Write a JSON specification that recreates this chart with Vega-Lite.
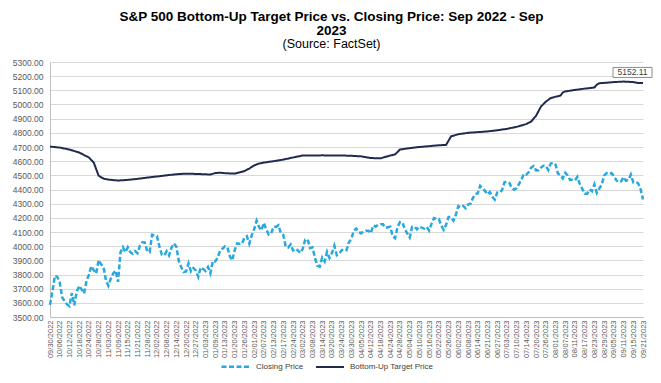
{
"$schema": "https://vega.github.io/schema/vega-lite/v6.json",
"width": 593, "height": 255,
"autosize": {"type": "none"},
"padding": {"left": 50, "top": 62, "right": 18, "bottom": 66},
"background": "white",
"config": {"view": {"stroke": null}, "font": "Liberation Sans"},
"title": {"text": ["S&P 500 Bottom-Up Target Price vs. Closing Price: Sep 2022 - Sep", "2023"], "subtitle": "(Source: FactSet)", "font": "Liberation Sans", "subtitleFont": "Liberation Sans", "fontSize": 13.5, "fontWeight": "bold", "color": "#000000", "subtitleFontSize": 12.5, "subtitleColor": "#000000", "lineHeight": 14, "subtitleLineHeight": 14, "subtitlePadding": 0, "anchor": "middle", "dx": -15, "offset": 8},
"data": {"values": [
{"date":"2022-09-30","Closing Price":3585.62,"Bottom-Up Target Price":4703},
{"date":"2022-10-03","Closing Price":3678.43},
{"date":"2022-10-04","Closing Price":3790.93},
{"date":"2022-10-05","Closing Price":3783.28},
{"date":"2022-10-06","Closing Price":3744.52,"Bottom-Up Target Price":4696},
{"date":"2022-10-07","Closing Price":3639.66},
{"date":"2022-10-10","Closing Price":3612.39},
{"date":"2022-10-11","Closing Price":3588.84},
{"date":"2022-10-12","Closing Price":3577.03,"Bottom-Up Target Price":4682},
{"date":"2022-10-13","Closing Price":3669.91},
{"date":"2022-10-14","Closing Price":3583.07},
{"date":"2022-10-17","Closing Price":3677.95},
{"date":"2022-10-18","Closing Price":3719.98,"Bottom-Up Target Price":4661},
{"date":"2022-10-19","Closing Price":3695.16},
{"date":"2022-10-20","Closing Price":3665.78},
{"date":"2022-10-21","Closing Price":3752.75},
{"date":"2022-10-24","Closing Price":3797.34,"Bottom-Up Target Price":4626},
{"date":"2022-10-25","Closing Price":3859.11},
{"date":"2022-10-26","Closing Price":3830.60,"Bottom-Up Target Price":4590},
{"date":"2022-10-27","Closing Price":3807.30},
{"date":"2022-10-28","Closing Price":3901.06,"Bottom-Up Target Price":4498},
{"date":"2022-10-31","Closing Price":3871.98},
{"date":"2022-11-01","Closing Price":3856.10,"Bottom-Up Target Price":4477},
{"date":"2022-11-02","Closing Price":3759.69},
{"date":"2022-11-03","Closing Price":3719.89,"Bottom-Up Target Price":4470},
{"date":"2022-11-04","Closing Price":3770.55},
{"date":"2022-11-07","Closing Price":3806.80},
{"date":"2022-11-08","Closing Price":3828.11},
{"date":"2022-11-09","Closing Price":3748.57,"Bottom-Up Target Price":4463},
{"date":"2022-11-10","Closing Price":3956.37},
{"date":"2022-11-11","Closing Price":3992.93},
{"date":"2022-11-14","Closing Price":3957.25},
{"date":"2022-11-15","Closing Price":3991.73,"Bottom-Up Target Price":4468},
{"date":"2022-11-16","Closing Price":3958.79},
{"date":"2022-11-17","Closing Price":3946.56},
{"date":"2022-11-18","Closing Price":3965.34},
{"date":"2022-11-21","Closing Price":3949.94,"Bottom-Up Target Price":4475},
{"date":"2022-11-22","Closing Price":4003.58},
{"date":"2022-11-23","Closing Price":4027.26},
{"date":"2022-11-25","Closing Price":4026.12},
{"date":"2022-11-28","Closing Price":3963.94,"Bottom-Up Target Price":4484},
{"date":"2022-11-29","Closing Price":3957.63},
{"date":"2022-11-30","Closing Price":4080.11},
{"date":"2022-12-01","Closing Price":4076.57},
{"date":"2022-12-02","Closing Price":4071.70,"Bottom-Up Target Price":4492},
{"date":"2022-12-05","Closing Price":3998.84},
{"date":"2022-12-06","Closing Price":3941.26},
{"date":"2022-12-07","Closing Price":3933.92},
{"date":"2022-12-08","Closing Price":3963.51,"Bottom-Up Target Price":4500},
{"date":"2022-12-09","Closing Price":3934.38},
{"date":"2022-12-12","Closing Price":3990.56},
{"date":"2022-12-13","Closing Price":4019.65},
{"date":"2022-12-14","Closing Price":3995.32,"Bottom-Up Target Price":4508},
{"date":"2022-12-15","Closing Price":3895.75},
{"date":"2022-12-16","Closing Price":3852.36},
{"date":"2022-12-19","Closing Price":3817.66},
{"date":"2022-12-20","Closing Price":3821.62,"Bottom-Up Target Price":4512},
{"date":"2022-12-21","Closing Price":3878.44},
{"date":"2022-12-22","Closing Price":3822.39},
{"date":"2022-12-23","Closing Price":3844.82},
{"date":"2022-12-27","Closing Price":3829.25,"Bottom-Up Target Price":4510},
{"date":"2022-12-28","Closing Price":3783.22},
{"date":"2022-12-29","Closing Price":3849.28},
{"date":"2022-12-30","Closing Price":3839.50},
{"date":"2023-01-03","Closing Price":3824.14,"Bottom-Up Target Price":4507},
{"date":"2023-01-04","Closing Price":3852.97},
{"date":"2023-01-05","Closing Price":3808.10,"Bottom-Up Target Price":4506},
{"date":"2023-01-06","Closing Price":3895.08},
{"date":"2023-01-09","Closing Price":3892.09,"Bottom-Up Target Price":4516},
{"date":"2023-01-10","Closing Price":3919.25},
{"date":"2023-01-11","Closing Price":3969.61,"Bottom-Up Target Price":4519},
{"date":"2023-01-12","Closing Price":3983.17},
{"date":"2023-01-13","Closing Price":3999.09,"Bottom-Up Target Price":4515},
{"date":"2023-01-17","Closing Price":3990.97},
{"date":"2023-01-18","Closing Price":3928.86},
{"date":"2023-01-19","Closing Price":3898.85},
{"date":"2023-01-20","Closing Price":3972.61,"Bottom-Up Target Price":4512},
{"date":"2023-01-23","Closing Price":4019.81},
{"date":"2023-01-24","Closing Price":4016.95},
{"date":"2023-01-25","Closing Price":4016.22},
{"date":"2023-01-26","Closing Price":4060.43,"Bottom-Up Target Price":4530},
{"date":"2023-01-27","Closing Price":4070.56},
{"date":"2023-01-30","Closing Price":4017.77,"Bottom-Up Target Price":4548},
{"date":"2023-01-31","Closing Price":4076.60},
{"date":"2023-02-01","Closing Price":4119.21,"Bottom-Up Target Price":4570},
{"date":"2023-02-02","Closing Price":4179.76},
{"date":"2023-02-03","Closing Price":4136.48,"Bottom-Up Target Price":4583},
{"date":"2023-02-06","Closing Price":4111.08},
{"date":"2023-02-07","Closing Price":4164.00,"Bottom-Up Target Price":4590},
{"date":"2023-02-08","Closing Price":4117.86},
{"date":"2023-02-09","Closing Price":4081.50},
{"date":"2023-02-10","Closing Price":4090.46},
{"date":"2023-02-13","Closing Price":4137.29,"Bottom-Up Target Price":4600},
{"date":"2023-02-14","Closing Price":4136.13},
{"date":"2023-02-15","Closing Price":4147.60},
{"date":"2023-02-16","Closing Price":4090.41},
{"date":"2023-02-17","Closing Price":4079.09,"Bottom-Up Target Price":4611},
{"date":"2023-02-21","Closing Price":3997.34},
{"date":"2023-02-22","Closing Price":3991.05},
{"date":"2023-02-23","Closing Price":4012.32},
{"date":"2023-02-24","Closing Price":3970.04,"Bottom-Up Target Price":4626},
{"date":"2023-02-27","Closing Price":3982.24},
{"date":"2023-02-28","Closing Price":3970.15},
{"date":"2023-03-01","Closing Price":3951.39},
{"date":"2023-03-02","Closing Price":3981.35,"Bottom-Up Target Price":4640},
{"date":"2023-03-03","Closing Price":4045.64},
{"date":"2023-03-06","Closing Price":4048.42},
{"date":"2023-03-07","Closing Price":3986.37},
{"date":"2023-03-08","Closing Price":3992.01,"Bottom-Up Target Price":4640},
{"date":"2023-03-09","Closing Price":3918.32},
{"date":"2023-03-10","Closing Price":3861.59},
{"date":"2023-03-13","Closing Price":3855.76},
{"date":"2023-03-14","Closing Price":3919.29,"Bottom-Up Target Price":4641},
{"date":"2023-03-15","Closing Price":3891.93},
{"date":"2023-03-16","Closing Price":3960.28},
{"date":"2023-03-17","Closing Price":3916.64},
{"date":"2023-03-20","Closing Price":3951.57,"Bottom-Up Target Price":4640},
{"date":"2023-03-21","Closing Price":4002.87},
{"date":"2023-03-22","Closing Price":3936.97},
{"date":"2023-03-23","Closing Price":3948.72},
{"date":"2023-03-24","Closing Price":3970.99,"Bottom-Up Target Price":4640},
{"date":"2023-03-27","Closing Price":3977.53},
{"date":"2023-03-28","Closing Price":3971.27},
{"date":"2023-03-29","Closing Price":4027.81},
{"date":"2023-03-30","Closing Price":4050.83,"Bottom-Up Target Price":4638},
{"date":"2023-03-31","Closing Price":4109.31},
{"date":"2023-04-03","Closing Price":4124.51},
{"date":"2023-04-04","Closing Price":4100.60},
{"date":"2023-04-05","Closing Price":4090.38,"Bottom-Up Target Price":4634},
{"date":"2023-04-06","Closing Price":4105.02},
{"date":"2023-04-10","Closing Price":4109.11},
{"date":"2023-04-11","Closing Price":4108.94},
{"date":"2023-04-12","Closing Price":4091.95,"Bottom-Up Target Price":4622},
{"date":"2023-04-13","Closing Price":4146.22},
{"date":"2023-04-14","Closing Price":4137.64},
{"date":"2023-04-17","Closing Price":4151.32},
{"date":"2023-04-18","Closing Price":4154.87,"Bottom-Up Target Price":4620},
{"date":"2023-04-19","Closing Price":4154.52},
{"date":"2023-04-20","Closing Price":4129.79},
{"date":"2023-04-21","Closing Price":4133.52},
{"date":"2023-04-24","Closing Price":4137.04,"Bottom-Up Target Price":4640},
{"date":"2023-04-25","Closing Price":4071.63},
{"date":"2023-04-26","Closing Price":4055.99,"Bottom-Up Target Price":4648},
{"date":"2023-04-27","Closing Price":4135.35},
{"date":"2023-04-28","Closing Price":4169.48,"Bottom-Up Target Price":4682},
{"date":"2023-05-01","Closing Price":4167.87},
{"date":"2023-05-02","Closing Price":4119.58},
{"date":"2023-05-03","Closing Price":4090.75},
{"date":"2023-05-04","Closing Price":4061.22,"Bottom-Up Target Price":4692},
{"date":"2023-05-05","Closing Price":4136.25},
{"date":"2023-05-08","Closing Price":4138.12},
{"date":"2023-05-09","Closing Price":4119.17},
{"date":"2023-05-10","Closing Price":4137.64,"Bottom-Up Target Price":4700},
{"date":"2023-05-11","Closing Price":4130.62},
{"date":"2023-05-12","Closing Price":4124.08},
{"date":"2023-05-15","Closing Price":4136.28},
{"date":"2023-05-16","Closing Price":4109.90,"Bottom-Up Target Price":4706},
{"date":"2023-05-17","Closing Price":4158.77},
{"date":"2023-05-18","Closing Price":4198.05},
{"date":"2023-05-19","Closing Price":4191.98},
{"date":"2023-05-22","Closing Price":4192.63,"Bottom-Up Target Price":4712},
{"date":"2023-05-23","Closing Price":4145.58},
{"date":"2023-05-24","Closing Price":4115.24},
{"date":"2023-05-25","Closing Price":4151.28,"Bottom-Up Target Price":4715},
{"date":"2023-05-26","Closing Price":4205.45},
{"date":"2023-05-30","Closing Price":4205.52,"Bottom-Up Target Price":4775},
{"date":"2023-05-31","Closing Price":4179.83},
{"date":"2023-06-01","Closing Price":4221.02},
{"date":"2023-06-02","Closing Price":4282.37,"Bottom-Up Target Price":4790},
{"date":"2023-06-05","Closing Price":4273.79},
{"date":"2023-06-06","Closing Price":4283.85},
{"date":"2023-06-07","Closing Price":4267.52},
{"date":"2023-06-08","Closing Price":4293.93,"Bottom-Up Target Price":4800},
{"date":"2023-06-09","Closing Price":4298.86},
{"date":"2023-06-12","Closing Price":4338.93},
{"date":"2023-06-13","Closing Price":4369.01},
{"date":"2023-06-14","Closing Price":4372.59,"Bottom-Up Target Price":4805},
{"date":"2023-06-15","Closing Price":4425.84},
{"date":"2023-06-16","Closing Price":4409.59},
{"date":"2023-06-20","Closing Price":4388.71},
{"date":"2023-06-21","Closing Price":4365.69,"Bottom-Up Target Price":4810},
{"date":"2023-06-22","Closing Price":4381.89},
{"date":"2023-06-23","Closing Price":4348.33},
{"date":"2023-06-26","Closing Price":4328.82},
{"date":"2023-06-27","Closing Price":4378.41,"Bottom-Up Target Price":4818},
{"date":"2023-06-28","Closing Price":4376.86},
{"date":"2023-06-29","Closing Price":4396.44},
{"date":"2023-06-30","Closing Price":4450.38},
{"date":"2023-07-03","Closing Price":4455.59,"Bottom-Up Target Price":4828},
{"date":"2023-07-05","Closing Price":4446.82},
{"date":"2023-07-06","Closing Price":4411.59},
{"date":"2023-07-07","Closing Price":4398.95},
{"date":"2023-07-10","Closing Price":4409.53,"Bottom-Up Target Price":4842},
{"date":"2023-07-11","Closing Price":4439.26},
{"date":"2023-07-12","Closing Price":4472.16},
{"date":"2023-07-13","Closing Price":4510.04},
{"date":"2023-07-14","Closing Price":4505.42,"Bottom-Up Target Price":4862},
{"date":"2023-07-17","Closing Price":4522.79},
{"date":"2023-07-18","Closing Price":4554.98,"Bottom-Up Target Price":4880},
{"date":"2023-07-19","Closing Price":4565.72},
{"date":"2023-07-20","Closing Price":4534.87,"Bottom-Up Target Price":4920},
{"date":"2023-07-21","Closing Price":4536.34},
{"date":"2023-07-24","Closing Price":4554.64,"Bottom-Up Target Price":4985},
{"date":"2023-07-25","Closing Price":4567.46},
{"date":"2023-07-26","Closing Price":4566.75,"Bottom-Up Target Price":5020},
{"date":"2023-07-27","Closing Price":4537.41},
{"date":"2023-07-28","Closing Price":4582.23,"Bottom-Up Target Price":5045},
{"date":"2023-07-31","Closing Price":4588.96},
{"date":"2023-08-01","Closing Price":4576.73,"Bottom-Up Target Price":5055},
{"date":"2023-08-02","Closing Price":4513.39},
{"date":"2023-08-03","Closing Price":4501.89,"Bottom-Up Target Price":5062},
{"date":"2023-08-04","Closing Price":4478.03,"Bottom-Up Target Price":5085},
{"date":"2023-08-07","Closing Price":4518.44,"Bottom-Up Target Price":5092},
{"date":"2023-08-08","Closing Price":4499.38},
{"date":"2023-08-09","Closing Price":4467.71},
{"date":"2023-08-10","Closing Price":4468.83},
{"date":"2023-08-11","Closing Price":4464.05,"Bottom-Up Target Price":5103},
{"date":"2023-08-14","Closing Price":4489.72},
{"date":"2023-08-15","Closing Price":4437.86},
{"date":"2023-08-16","Closing Price":4404.33},
{"date":"2023-08-17","Closing Price":4370.36,"Bottom-Up Target Price":5112},
{"date":"2023-08-18","Closing Price":4369.71},
{"date":"2023-08-21","Closing Price":4399.77},
{"date":"2023-08-22","Closing Price":4387.55},
{"date":"2023-08-23","Closing Price":4436.01,"Bottom-Up Target Price":5120},
{"date":"2023-08-24","Closing Price":4376.31,"Bottom-Up Target Price":5140},
{"date":"2023-08-25","Closing Price":4405.71,"Bottom-Up Target Price":5150},
{"date":"2023-08-28","Closing Price":4433.31},
{"date":"2023-08-29","Closing Price":4497.63},
{"date":"2023-08-30","Closing Price":4514.87},
{"date":"2023-08-31","Closing Price":4507.66},
{"date":"2023-09-01","Closing Price":4515.77},
{"date":"2023-09-05","Closing Price":4496.83,"Bottom-Up Target Price":5158},
{"date":"2023-09-06","Closing Price":4465.48},
{"date":"2023-09-07","Closing Price":4451.14},
{"date":"2023-09-08","Closing Price":4457.49},
{"date":"2023-09-11","Closing Price":4487.46,"Bottom-Up Target Price":5162},
{"date":"2023-09-12","Closing Price":4461.90},
{"date":"2023-09-13","Closing Price":4467.44},
{"date":"2023-09-14","Closing Price":4505.10},
{"date":"2023-09-15","Closing Price":4450.32,"Bottom-Up Target Price":5158},
{"date":"2023-09-18","Closing Price":4453.53},
{"date":"2023-09-19","Closing Price":4443.95,"Bottom-Up Target Price":5152},
{"date":"2023-09-20","Closing Price":4402.20},
{"date":"2023-09-21","Closing Price":4330.00,"Bottom-Up Target Price":5152.11}
]},
"transform": [
  {"fold": ["Closing Price", "Bottom-Up Target Price"], "as": ["series", "price"]},
  {"filter": "isValid(datum.price)"}
],
"encoding": {
  "x": {"field": "date", "type": "ordinal", "scale": {"type": "point", "padding": 0},
    "axis": {"title": null, "values": ["2022-09-30","2022-10-06","2022-10-12","2022-10-18","2022-10-24","2022-10-28","2022-11-03","2022-11-09","2022-11-15","2022-11-21","2022-11-28","2022-12-02","2022-12-08","2022-12-14","2022-12-20","2022-12-27","2023-01-03","2023-01-09","2023-01-13","2023-01-20","2023-01-26","2023-02-01","2023-02-07","2023-02-13","2023-02-17","2023-02-24","2023-03-02","2023-03-08","2023-03-14","2023-03-20","2023-03-24","2023-03-30","2023-04-05","2023-04-12","2023-04-18","2023-04-24","2023-04-28","2023-05-04","2023-05-10","2023-05-16","2023-05-22","2023-05-26","2023-06-02","2023-06-08","2023-06-14","2023-06-21","2023-06-27","2023-07-03","2023-07-10","2023-07-14","2023-07-20","2023-07-26","2023-08-01","2023-08-07","2023-08-11","2023-08-17","2023-08-23","2023-08-29","2023-09-05","2023-09-11","2023-09-15","2023-09-21"],
      "labelExpr": "substring(datum.value,5,7) + '/' + substring(datum.value,8,10) + '/' + substring(datum.value,0,4)",
      "labelAngle": -90, "labelFontSize": 7.5, "labelColor": "#595959", "labelFont": "Liberation Sans", "labelOverlap": false, "labelPadding": 3, "ticks": false, "domainColor": "#bfbfbf", "grid": false}},
  "y": {"field": "price", "type": "quantitative", "scale": {"domain": [3500, 5300], "nice": false, "zero": false},
    "axis": {"title": null, "values": [3500,3600,3700,3800,3900,4000,4100,4200,4300,4400,4500,4600,4700,4800,4900,5000,5100,5200,5300], "format": ".2f", "labelFontSize": 8.5, "labelColor": "#595959", "labelFont": "Liberation Sans", "labelPadding": 7, "ticks": false, "domainColor": "#bfbfbf", "gridColor": "#d9d9d9", "gridWidth": 1}}
},
"layer": [
  {"mark": {"type": "line"},
   "encoding": {
     "color": {"field": "series", "type": "nominal", "scale": {"domain": ["Closing Price", "Bottom-Up Target Price"], "range": ["#29A8E0", "#1F2A4E"]},
       "legend": {"title": null, "orient": "none", "legendX": 170, "legendY": 289, "direction": "horizontal", "symbolType": "stroke", "symbolSize": 784, "symbolStrokeWidth": 2.5, "labelFontSize": 8, "labelColor": "#404040", "labelFont": "Liberation Sans", "labelOffset": 5, "columnPadding": 8}},
     "strokeDash": {"field": "series", "type": "nominal", "scale": {"domain": ["Closing Price", "Bottom-Up Target Price"], "range": [[5, 2.5], [1, 0]]},
       "legend": {"title": null, "orient": "none", "legendX": 170, "legendY": 289, "direction": "horizontal", "symbolType": "stroke", "symbolSize": 784, "symbolStrokeWidth": 2.5, "labelFontSize": 8, "labelColor": "#404040", "labelFont": "Liberation Sans", "labelOffset": 5, "columnPadding": 8}},
     "strokeWidth": {"field": "series", "type": "nominal", "scale": {"domain": ["Closing Price", "Bottom-Up Target Price"], "range": [2.5, 2]}, "legend": null}
   }},
  {"transform": [{"filter": "datum.date == '2023-09-21' && datum.series == 'Bottom-Up Target Price'"}],
   "mark": {"type": "point", "shape": "M-3,-1.55H0.9V-0.55H-3Z", "size": 400, "filled": true, "fill": "white", "stroke": "#8c8c8c", "strokeWidth": 1, "opacity": 1}},
  {"transform": [{"filter": "datum.date == '2023-09-21' && datum.series == 'Bottom-Up Target Price'"}],
   "mark": {"type": "text", "dx": -10.5, "dy": -10.5, "fontSize": 8.5, "color": "#404040", "font": "Liberation Sans", "align": "center", "baseline": "middle"},
   "encoding": {"text": {"field": "price", "type": "quantitative", "format": ".2f"}}}
]
}
